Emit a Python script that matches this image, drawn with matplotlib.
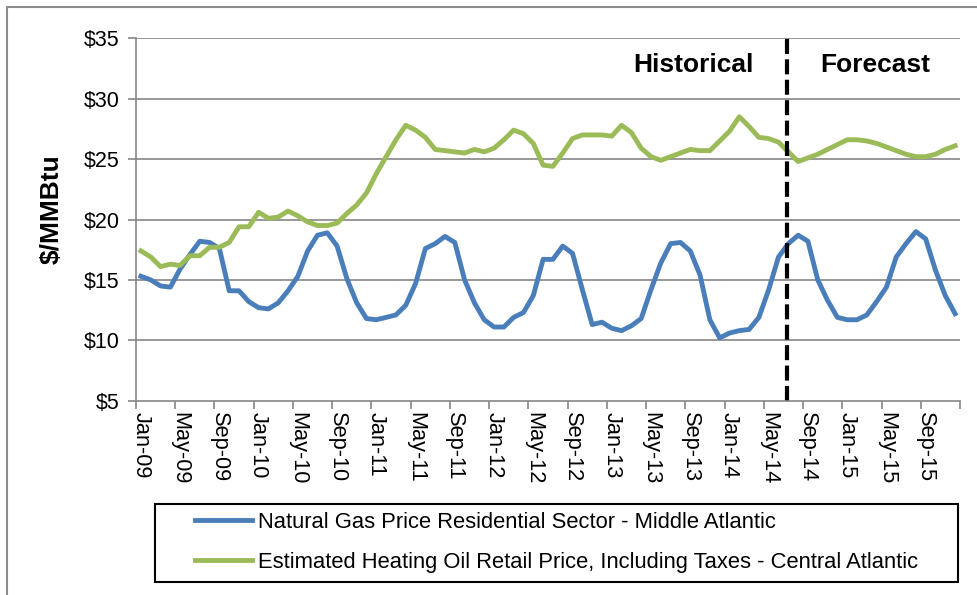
import numpy as np
import pandas as pd
import matplotlib
matplotlib.use('Agg')
from matplotlib import pyplot as plt
from matplotlib.patches import Rectangle
from matplotlib.lines import Line2D

plt.rcParams['font.family'] = ['Liberation Sans', 'DejaVu Sans']

# monthly categories Jan-09 .. Dec-15
months = pd.date_range('2009-01-01', periods=84, freq='MS')

# $/MMBtu
nat_gas = [15.3, 15.0, 14.5, 14.4, 15.9, 17.1, 18.2, 18.1, 17.6, 14.1, 14.1, 13.2,
           12.7, 12.6, 13.1, 14.1, 15.3, 17.4, 18.7, 18.9, 17.8, 15.1, 13.1, 11.8,
           11.7, 11.9, 12.1, 12.9, 14.7, 17.6, 18.0, 18.6, 18.1, 15.0, 13.1, 11.7,
           11.1, 11.1, 11.9, 12.3, 13.7, 16.7, 16.7, 17.8, 17.2, 14.2, 11.3, 11.5,
           11.0, 10.8, 11.2, 11.8, 14.2, 16.4, 18.0, 18.1, 17.4, 15.4, 11.7, 10.2,
           10.6, 10.8, 10.9, 11.9, 14.2, 16.9, 18.0, 18.7, 18.2, 15.0, 13.3, 11.9,
           11.7, 11.7, 12.1, 13.2, 14.4, 16.9, 18.0, 19.0, 18.4, 15.8, 13.7, 12.2]
heating_oil = [17.4, 16.9, 16.1, 16.3, 16.2, 17.0, 17.0, 17.7, 17.7, 18.1, 19.4, 19.4,
               20.6, 20.1, 20.2, 20.7, 20.3, 19.8, 19.5, 19.5, 19.7, 20.5, 21.2, 22.2,
               23.8, 25.2, 26.6, 27.8, 27.4, 26.8, 25.8, 25.7, 25.6, 25.5, 25.8, 25.6,
               25.9, 26.6, 27.4, 27.1, 26.3, 24.5, 24.4, 25.5, 26.7, 27.0, 27.0, 27.0,
               26.9, 27.8, 27.2, 25.9, 25.2, 24.9, 25.2, 25.5, 25.8, 25.7, 25.7, 26.5,
               27.3, 28.5, 27.7, 26.8, 26.7, 26.4, 25.6, 24.8, 25.1, 25.4, 25.8, 26.2,
               26.6, 26.6, 26.5, 26.3, 26.0, 25.7, 25.4, 25.2, 25.2, 25.4, 25.8, 26.1]

tick_labels = ['Jan-09', 'May-09', 'Sep-09', 'Jan-10', 'May-10', 'Sep-10', 'Jan-11',
               'May-11', 'Sep-11', 'Jan-12', 'May-12', 'Sep-12', 'Jan-13', 'May-13',
               'Sep-13', 'Jan-14', 'May-14', 'Sep-14', 'Jan-15', 'May-15', 'Sep-15']
y_ticks = [5, 10, 15, 20, 25, 30, 35]
y_labels = ['$5', '$10', '$15', '$20', '$25', '$30', '$35']
forecast_at = 65.85  # between Jul-14 and Aug-14

names = ['Natural Gas Price Residential Sector - Middle Atlantic',
         'Estimated Heating Oil Retail Price, Including Taxes - Central Atlantic']

blue = '#4a7ebb'
green = '#9bbb59'
grid_c = '#868686'

W, H = 977, 595
fig = plt.figure(figsize=(W / 100, H / 100), dpi=100)
ax = fig.add_axes([136 / W, 1 - 400.7 / H, 824 / W, 362.4 / H])

x = np.arange(len(months))
ax.plot(x, nat_gas, color=blue, lw=3.5, solid_joinstyle='round', label=names[0])
ax.plot(x, heating_oil, color=green, lw=3.5, solid_joinstyle='round', label=names[1])

ax.set_xlim(-0.5, len(months) - 0.5)
ax.set_ylim(5, 35)
ax.set_yticks(y_ticks)
ax.set_yticklabels(y_labels)
ax.tick_params(axis='y', length=6, width=1.2, color=grid_c, labelsize=15.5, pad=6)
for yv in y_ticks[1:]:
    ax.axhline(yv, color=grid_c, lw=1.2, zorder=0)

ax.set_xticks(x[::4])
ax.set_xticklabels(tick_labels, rotation=-90, fontsize=15.7)
ax.tick_params(axis='x', which='major', length=0, pad=8)
ax.set_xticks(np.arange(-0.5, len(months), 4), minor=True)
ax.tick_params(axis='x', which='minor', length=6, width=1.2, color=grid_c)

for s in ['top', 'right']:
    ax.spines[s].set_visible(False)
for s in ['left', 'bottom']:
    ax.spines[s].set_color(grid_c)
    ax.spines[s].set_linewidth(1.2)

ax.axvline(forecast_at, color='black', lw=3, dashes=(3.6, 1.3))
ax.text(56.3, 32.8, 'Historical', ha='center', va='center', fontsize=19, fontweight='bold')
ax.text(74.9, 32.8, 'Forecast', ha='center', va='center', fontsize=19, fontweight='bold')
ax.text(-0.102, 0.53, '$/MMBtu', transform=ax.transAxes, rotation=90,
        ha='center', va='center', fontsize=19, fontweight='bold')

# legend box
fig.patches.append(Rectangle((155 / W, 1 - 582 / H), 803 / W, 78 / H, fill=False,
                             edgecolor='black', lw=1.5, transform=fig.transFigure))
fig.legend(loc='center', bbox_to_anchor=(556.5 / W, 1 - 542.5 / H), frameon=False,
           fontsize=15.8, handlelength=2.6, handletextpad=0.25, labelspacing=0.85)

# chart border
fig.lines.append(Line2D([7 / W, 7 / W, 1.0], [0.0, 1 - 7 / H, 1 - 7 / H], color='#8c8c8c',
                        lw=1.5, transform=fig.transFigure))

fig.savefig('out.png', dpi=100)
